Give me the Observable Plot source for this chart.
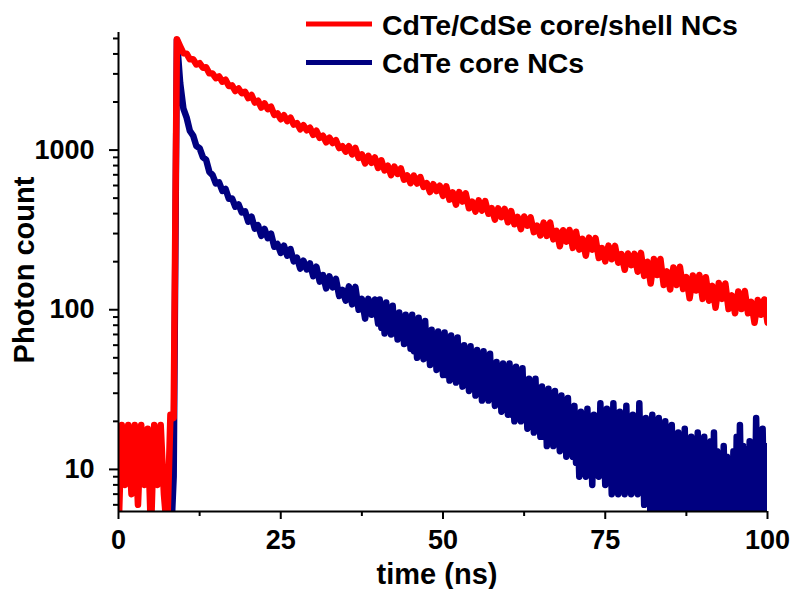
<!DOCTYPE html>
<html>
<head>
<meta charset="utf-8">
<script src="https://cdn.jsdelivr.net/npm/d3@7"></script>
<script src="https://cdn.jsdelivr.net/npm/@observablehq/plot@0.6"></script>
<style>
  html, body { margin: 0; padding: 0; background: #fff; }
  #chart { width: 795px; height: 589px; }
</style>
</head>
<body>
<div id="chart"></div>
<script>
// ---- data ----
// CdTe/CdSe core/shell NCs: time (ns) and photon counts
const timeShell = [0,0.5,1,1.5,2,2.5,3,3.5,4,4.5,5,5.5,6,6.5,7,7.5,8,8.5,9,9.5,10,
10.5,11,11.5,12,12.5,13,13.5,14,14.5,15,15.5,16,16.5,17,17.5,18,18.5,19,19.5,20,
20.5,21,21.5,22,22.5,23,23.5,24,24.5,25,25.5,26,26.5,27,27.5,28,28.5,29,29.5,30,
30.5,31,31.5,32,32.5,33,33.5,34,34.5,35,35.5,36,36.5,37,37.5,38,38.5,39,39.5,40,
40.5,41,41.5,42,42.5,43,43.5,44,44.5,45,45.5,46,46.5,47,47.5,48,48.5,49,49.5,50,
50.5,51,51.5,52,52.5,53,53.5,54,54.5,55,55.5,56,56.5,57,57.5,58,58.5,59,59.5,60,
60.5,61,61.5,62,62.5,63,63.5,64,64.5,65,65.5,66,66.5,67,67.5,68,68.5,69,69.5,70,
70.5,71,71.5,72,72.5,73,73.5,74,74.5,75,75.5,76,76.5,77,77.5,78,78.5,79,79.5,80,
80.5,81,81.5,82,82.5,83,83.5,84,84.5,85,85.5,86,86.5,87,87.5,88,88.5,89,89.5,90,
90.5,91,91.5,92,92.5,93,93.5,94,94.5,95,95.5,96,96.5,97,97.5,98,98.5,99,99.5,100];

const countShell = [4,19,8,19,7,19,6,19,8,18,4,19,8,19,7,4,22,21,4950,4470,4045,
4020,3705,3704,3434,3505,3281,3298,3023,3013,2819,
2894,2681,2760,2522,2542,2343,2429,2269,2317,2113,
2212,1984,2038,1844,1961,1805,1869,1661,1698,1560,
1652,1520,1595,1443,1476,1350,1430,1329,1381,1245,
1321,1192,1230,1119,1197,1107,1153,1029,1057,977,
1057,940,1031,893,939,825,920,832,898,773,
863,745,798,696,788,709,768,652,693,620,
692,617,678,588,621,546,611,553,598,517,
593,489,543,455,545,476,536,432,476,412,
484,418,479,399,433,367,432,380,428,353,
415,343,381,320,384,336,379,306,336,292,
351,290,352,276,312,250,315,267,316,244,
308,238,278,218,283,238,281,211,243,201,
252,207,251,197,223,178,225,190,224,173,
227,163,200,146,208,165,208,143,174,134,
184,143,186,135,160,118,164,132,165,117,
160,114,141,103,147,117,146,101,123,95,
130,101,131,95,112,83,115,93,116,83];

// CdTe core NCs: time (ns) and photon counts
const timeCore = [0,0.5,1,1.5,2,2.5,3,3.5,4,4.5,5,5.5,6,6.5,7,7.5,8,8.5,9,9.5,10,
10.5,11,11.5,12,12.5,13,13.5,14,14.5,15,15.5,16,16.5,17,17.5,18,18.5,19,19.5,20,
20.5,21,21.5,22,22.5,23,23.5,24,24.5,25,25.5,26,26.5,27,27.5,28,28.5,29,29.5,30,
30.5,31,31.5,32,32.5,33,33.5,34,34.5,35,35.5,36,36.5,37,37.5,38,38.5,39,39.5,40,
40.25,40.5,40.75,41,41.25,41.5,41.75,42,42.25,42.5,42.75,43,43.25,43.5,43.75,44,44.25,44.5,44.75,45,
45.25,45.5,45.75,46,46.25,46.5,46.75,47,47.25,47.5,47.75,48,48.25,48.5,48.75,49,49.25,49.5,49.75,50,
50.25,50.5,50.75,51,51.25,51.5,51.75,52,52.25,52.5,52.75,53,53.25,53.5,53.75,54,54.25,54.5,54.75,55,
55.25,55.5,55.75,56,56.25,56.5,56.75,57,57.25,57.5,57.75,58,58.25,58.5,58.75,59,59.25,59.5,59.75,60,
60.25,60.5,60.75,61,61.25,61.5,61.75,62,62.25,62.5,62.75,63,63.25,63.5,63.75,64,64.25,64.5,64.75,65,
65.25,65.5,65.75,66,66.25,66.5,66.75,67,67.25,67.5,67.75,68,68.25,68.5,68.75,69,69.25,69.5,69.75,70,
70.25,70.5,70.75,71,71.25,71.5,71.75,72,72.25,72.5,72.75,73,73.25,73.5,73.75,74,74.25,74.5,74.75,75,
75.25,75.5,75.75,76,76.25,76.5,76.75,77,77.25,77.5,77.75,78,78.25,78.5,78.75,79,79.25,79.5,79.75,80,
80.25,80.5,80.75,81,81.25,81.5,81.75,82,82.25,82.5,82.75,83,83.25,83.5,83.75,84,84.25,84.5,84.75,85,
85.25,85.5,85.75,86,86.25,86.5,86.75,87,87.25,87.5,87.75,88,88.25,88.5,88.75,89,89.25,89.5,89.75,90,
90.25,90.5,90.75,91,91.25,91.5,91.75,92,92.25,92.5,92.75,93,93.25,93.5,93.75,94,94.25,94.5,94.75,95,
95.25,95.5,95.75,96,96.25,96.5,96.75,97,97.25,97.5,97.75,98,98.25,98.5,98.75,99,99.25,99.5,99.75,100];

const countCore = [3,3,3,3,3,3,3,3,3,3,3,3,3,3,3,3,3,9,4900,2630,1820,
1597,1318,1233,1059,1028,903,870,730,697,618,
628,555,571,496,498,442,457,407,414,356,
383,322,338,290,321,281,300,248,258,227,
252,218,240,201,212,181,203,179,195,162,
186,150,165,136,162,138,156,122,133,114,
140,108,139,100,117,88,117,93,116,82,
116,77,103,71,111,80,102,70,106,72,88,65,96,67,89,61,93,62,82,57,
93,55,80,50,89,59,80,49,85,52,67,45,75,47,69,42,73,43,63,39,
72,39,61,36,69,43,62,35,67,38,51,33,60,35,54,31,59,32,49,29,
56,30,48,27,55,33,49,27,53,29,40,25,47,27,43,23,46,25,39,22,
46,22,38,20,44,25,39,20,43,22,31,18,37,20,33,17,37,18,30,16,
33,16,29,14,32,18,29,14,31,15,24,13,29,14,26,12,28,13,24,12,
25,11,19,9,23,13,18,9,24,12,16,8,22,10,20,9,26,11,17,8,
24,10,18,7,26,12,19,7,23,9,17,7,25,10,20,7,22,9,15,7,
26,9,17,6,21,8,14,4,22,7,16,5,21,8,14,4,20,6,15,4,
19,7,13,4,17,6,15,3,18,5,12,4,16,6,14,3,17,5,13,4,
16,6,12,3,15,5,17,4,13,6,11,3,14,5,12,4,11,5,13,3,
16,4,19,5,14,6,12,3,15,5,13,4,21,6,17,4,18,5,14,4];

const seriesNames = ["CdTe/CdSe core/shell NCs", "CdTe core NCs"];
const seriesColors = ["#ff0000", "#000080"];

const xDomain = [0, 100];
const yDomain = [5.45, 5450];
const xTicks = [0, 25, 50, 75, 100];
const xMinorTicks = [12.5, 37.5, 62.5, 87.5];
const yTicks = [10, 100, 1000];
const yMinorTicks = [6,7,8,9,20,30,40,50,60,70,80,90,200,300,400,500,600,700,800,900,2000,3000,4000,5000];
const xTitle = "time (ns)";
const yTitle = "Photon count";

// ---- tables ----
const redData = timeShell.map((t, i) => ({t, v: countShell[i]}));
const blueData = timeCore.map((t, i) => ({t, v: countCore[i]}));

const FONT = "'Liberation Sans', Arial, Helvetica, sans-serif";

const plot = Plot.plot({
  width: 795,
  height: 589,
  marginLeft: 118,
  marginRight: 28,
  marginTop: 32,
  marginBottom: 78,
  style: {fontFamily: FONT, fontSize: "27px", fontWeight: "bold", color: "#000", background: "#fff", overflow: "visible"},
  x: {domain: xDomain, label: null},
  y: {type: "log", domain: yDomain, label: null},
  marks: [
    Plot.line(blueData, {x: "t", y: "v", stroke: seriesColors[1], strokeWidth: 6.5, strokeLinejoin: "round", strokeLinecap: "round", clip: true}),
    Plot.line(redData, {x: "t", y: "v", stroke: seriesColors[0], strokeWidth: 6.5, strokeLinejoin: "round", strokeLinecap: "round", clip: true}),
    Plot.ruleX([xDomain[0]], {stroke: "#000", strokeWidth: 2}),
    Plot.ruleY([yDomain[0]], {stroke: "#000", strokeWidth: 2}),
    Plot.axisX(xTicks, {tickSize: 8, tickPadding: 10, strokeWidth: 2, tickFormat: d => String(d), label: null}),
    Plot.axisX(xMinorTicks, {tickSize: 5, strokeWidth: 2, tickFormat: () => "", label: null}),
    Plot.axisY(yTicks, {tickSize: 9, tickPadding: 15, strokeWidth: 2, tickFormat: d => String(d), label: null}),
    Plot.axisY(yMinorTicks, {tickSize: 5, strokeWidth: 2, tickFormat: () => "", label: null})
  ]
});

document.getElementById("chart").appendChild(plot);

// ---- titles and legend ----
const svg = d3.select(plot);
const g = svg.append("g").attr("font-family", FONT).attr("font-weight", "bold").attr("fill", "#000");

g.append("text")
  .attr("transform", "translate(34,270) rotate(-90)")
  .attr("text-anchor", "middle")
  .attr("font-size", 29)
  .text(yTitle);

g.append("text")
  .attr("x", 437).attr("y", 584)
  .attr("text-anchor", "middle")
  .attr("font-size", 29)
  .text(xTitle);

const legendY = [24, 62.5];
seriesNames.forEach((name, i) => {
  g.append("line")
    .attr("x1", 306).attr("x2", 372)
    .attr("y1", legendY[i]).attr("y2", legendY[i])
    .attr("stroke", seriesColors[i]).attr("stroke-width", 5);
  g.append("text")
    .attr("x", 382).attr("y", legendY[i] + 10.5)
    .attr("text-anchor", "start")
    .attr("font-size", 28.5)
    .text(name);
});
</script>
</body>
</html>
